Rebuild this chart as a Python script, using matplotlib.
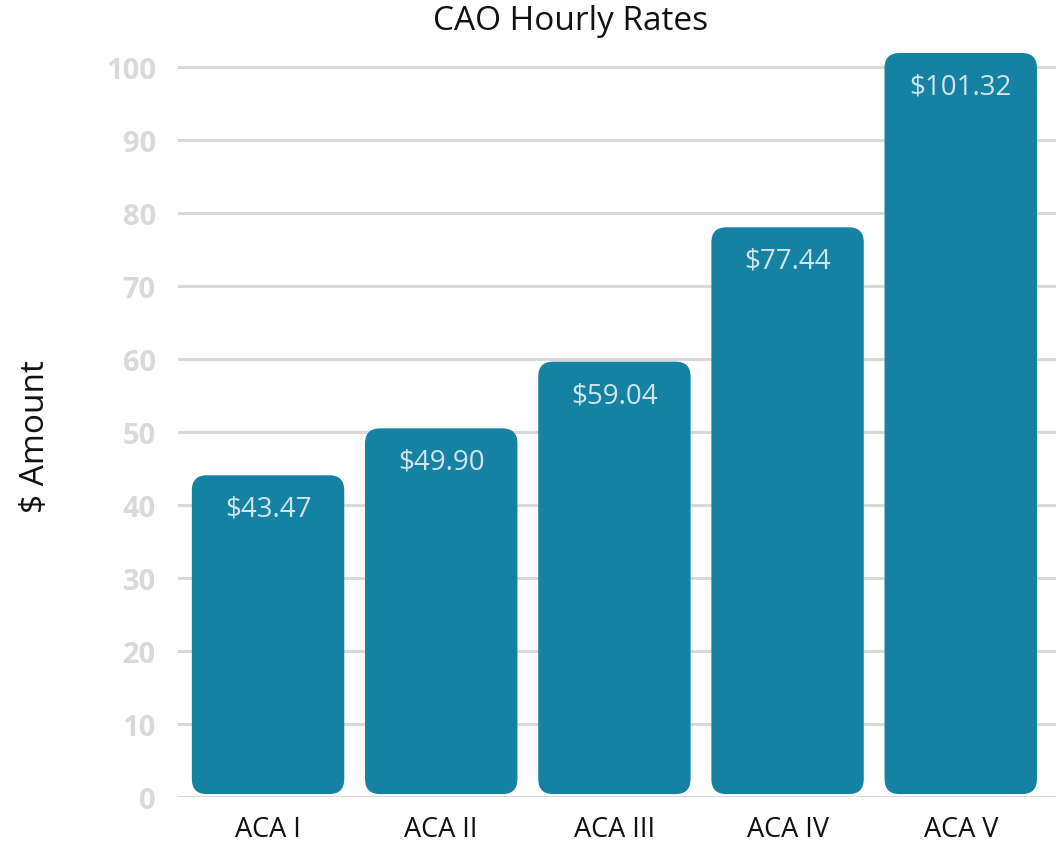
import numpy as np
import matplotlib
matplotlib.use("Agg")
import matplotlib.pyplot as plt
from matplotlib.patches import FancyBboxPatch

# data
categories = ['ACA I', 'ACA II', 'ACA III', 'ACA IV', 'ACA V']
rates = [43.47, 49.90, 59.04, 77.44, 101.32]
rate_labels = ['$43.47', '$49.90', '$59.04', '$77.44', '$101.32']
yticks = [0, 10, 20, 30, 40, 50, 60, 70, 80, 90, 100]

bar_color = '#1582a3'
grid_color = '#d9d9d9'
plt.rcParams['font.family'] = ['Open Sans', 'DejaVu Sans']

W, H = 1056, 845
fig = plt.figure(figsize=(W / 100, H / 100), dpi=100)
ax_left, ax_bottom = 178 / W, 47 / H
ax_w, ax_h = 1 - ax_left, (798 - 38.8) / H
ax = fig.add_axes([ax_left, ax_bottom, ax_w, ax_h])

xlim = (-0.52, 4.55)
ylim = (0, 104)
ax.set_xlim(*xlim)
ax.set_ylim(*ylim)

# gridlines behind bars
for t in yticks:
    ax.axhline(t, color=grid_color, lw=2.2, zorder=0)

# rounded bars; aspect correction so corners are circular on screen
x_per_px = (xlim[1] - xlim[0]) / (ax_w * W)
y_per_px = (ylim[1] - ylim[0]) / (ax_h * H)
aspect = y_per_px / x_per_px
bw = 0.88
r = 15 * x_per_px
x = np.arange(len(categories))
for xi, v, lab in zip(x, rates, rate_labels):
    b0 = 0.4
    p = FancyBboxPatch((xi - bw / 2, b0), bw, v - b0 + 0.6,
                       boxstyle=f"round,pad=0,rounding_size={r}",
                       mutation_aspect=aspect, fc=bar_color, ec='none', zorder=2)
    ax.add_patch(p)
    ax.annotate(lab, (xi, v), xytext=(0, -29), textcoords='offset pixels',
                ha='center', va='center', fontsize=20, color='#d3e3ea',
                zorder=3)

ax.set_xticks(x)
ax.set_xticklabels(categories, fontsize=19.5, color='#111111')
ax.set_yticks(yticks)
ax.set_yticklabels([str(t) for t in yticks], fontsize=21, fontweight='bold',
                   color=grid_color)
ax.tick_params(axis='x', length=0, pad=13)
ax.tick_params(axis='y', length=0, pad=16)
for s in ax.spines.values():
    s.set_visible(False)

fig.text(35 / W, 1 - 437 / H, '$ Amount', rotation=90, ha='center', va='center',
         fontsize=24, color='#111111')
fig.text(571 / W, 1 - 21 / H, 'CAO Hourly Rates', ha='center', va='center',
         fontsize=24, color='#111111')

fig.savefig('out.png', dpi=100)
